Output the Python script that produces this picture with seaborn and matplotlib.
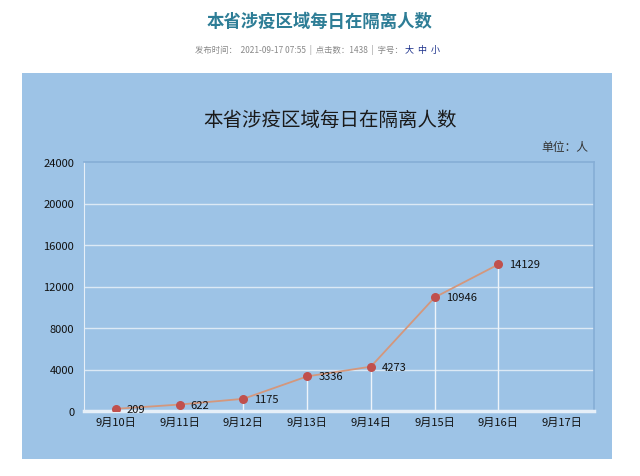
import numpy as np
import pandas as pd
import matplotlib.pyplot as plt
import seaborn as sns
from matplotlib.patches import Rectangle

# data
dates = ["9月10日", "9月11日", "9月12日", "9月13日", "9月14日", "9月15日", "9月16日", "9月17日"]
counts = [209, 622, 1175, 3336, 4273, 10946, 14129]
yticks = [0, 4000, 8000, 12000, 16000, 20000, 24000]

df = pd.DataFrame({"pos": np.arange(len(counts)), "count": counts})

sns.set_style("white")
plt.rcParams['font.family'] = ['Noto Sans CJK SC', 'DejaVu Sans']

fig = plt.figure(figsize=(6.4, 4.77), dpi=100)
fig.patch.set_facecolor("white")

# page header
fig.text(0.5, 1 - 22 / 477, "本省涉疫区域每日在隔离人数", ha="center", va="center",
         fontsize=12.5, fontweight="bold", color="#2d7d96")
fig.text(403 / 640, 1 - 50 / 477, "发布时间：  2021-09-17 07:55  |  点击数：1438  |  字号：",
         ha="right", va="center", fontsize=6, color="#888888")
fig.text(403 / 640, 1 - 50 / 477, " 大  中  小", ha="left", va="center", fontsize=6.5,
         color="#1a2f8a")

# light blue chart panel
panel = Rectangle((22 / 640, 1 - 460 / 477), 590 / 640, 386 / 477,
                  transform=fig.transFigure, facecolor="#9dc3e6", edgecolor="none", zorder=-1)
fig.patches.append(panel)

fig.text(330 / 640, 1 - 120 / 477, "本省涉疫区域每日在隔离人数", ha="center", va="center",
         fontsize=14, color="#1a1a1a")
fig.text(588 / 640, 1 - 148 / 477, "单位：人", ha="right", va="center",
         fontsize=8.5, color="#333333")

ax = fig.add_axes([84 / 640, 1 - 412 / 477, 510 / 640, 249 / 477])
ax.set_zorder(2)
ax.set_facecolor("#9dc3e6")

# gridlines and drop lines
for y in yticks[1:-1]:
    ax.axhline(y, color="#dce9f5", lw=1, zorder=1)
ax.vlines(df["pos"], 0, df["count"], color="#eef4fa", lw=1, zorder=1)

sns.lineplot(data=df, x="pos", y="count", ax=ax, color="#d4977c", lw=1.3, zorder=2)
ax.scatter(df["pos"], df["count"], s=30, color="#c0504d", zorder=3)

for x, v in zip(df["pos"], df["count"]):
    ax.annotate(str(v), (x, v), xytext=(8, 0), textcoords="offset points",
                ha="left", va="center", fontsize=8, color="#111111", zorder=4)

ax.set_xlim(-0.5, len(dates) - 0.5)
ax.set_ylim(0, 24000)
ax.set_xticks(range(len(dates)))
ax.set_xticklabels(dates)
ax.set_yticks(yticks)
ax.set_xlabel("")
ax.set_ylabel("")
ax.tick_params(axis="both", labelsize=8, colors="#111111", length=0, pad=4)
ax.tick_params(axis="y", length=3, color="#dce9f5")

for side in ["top", "right"]:
    ax.spines[side].set_color("#86aed6")
    ax.spines[side].set_linewidth(1.2)
ax.spines["left"].set_color("#e6eff8")
ax.spines["bottom"].set_color("#e6eff8")
ax.spines["bottom"].set_linewidth(2.5)

fig.savefig("out.png", dpi=100, facecolor=fig.get_facecolor())
